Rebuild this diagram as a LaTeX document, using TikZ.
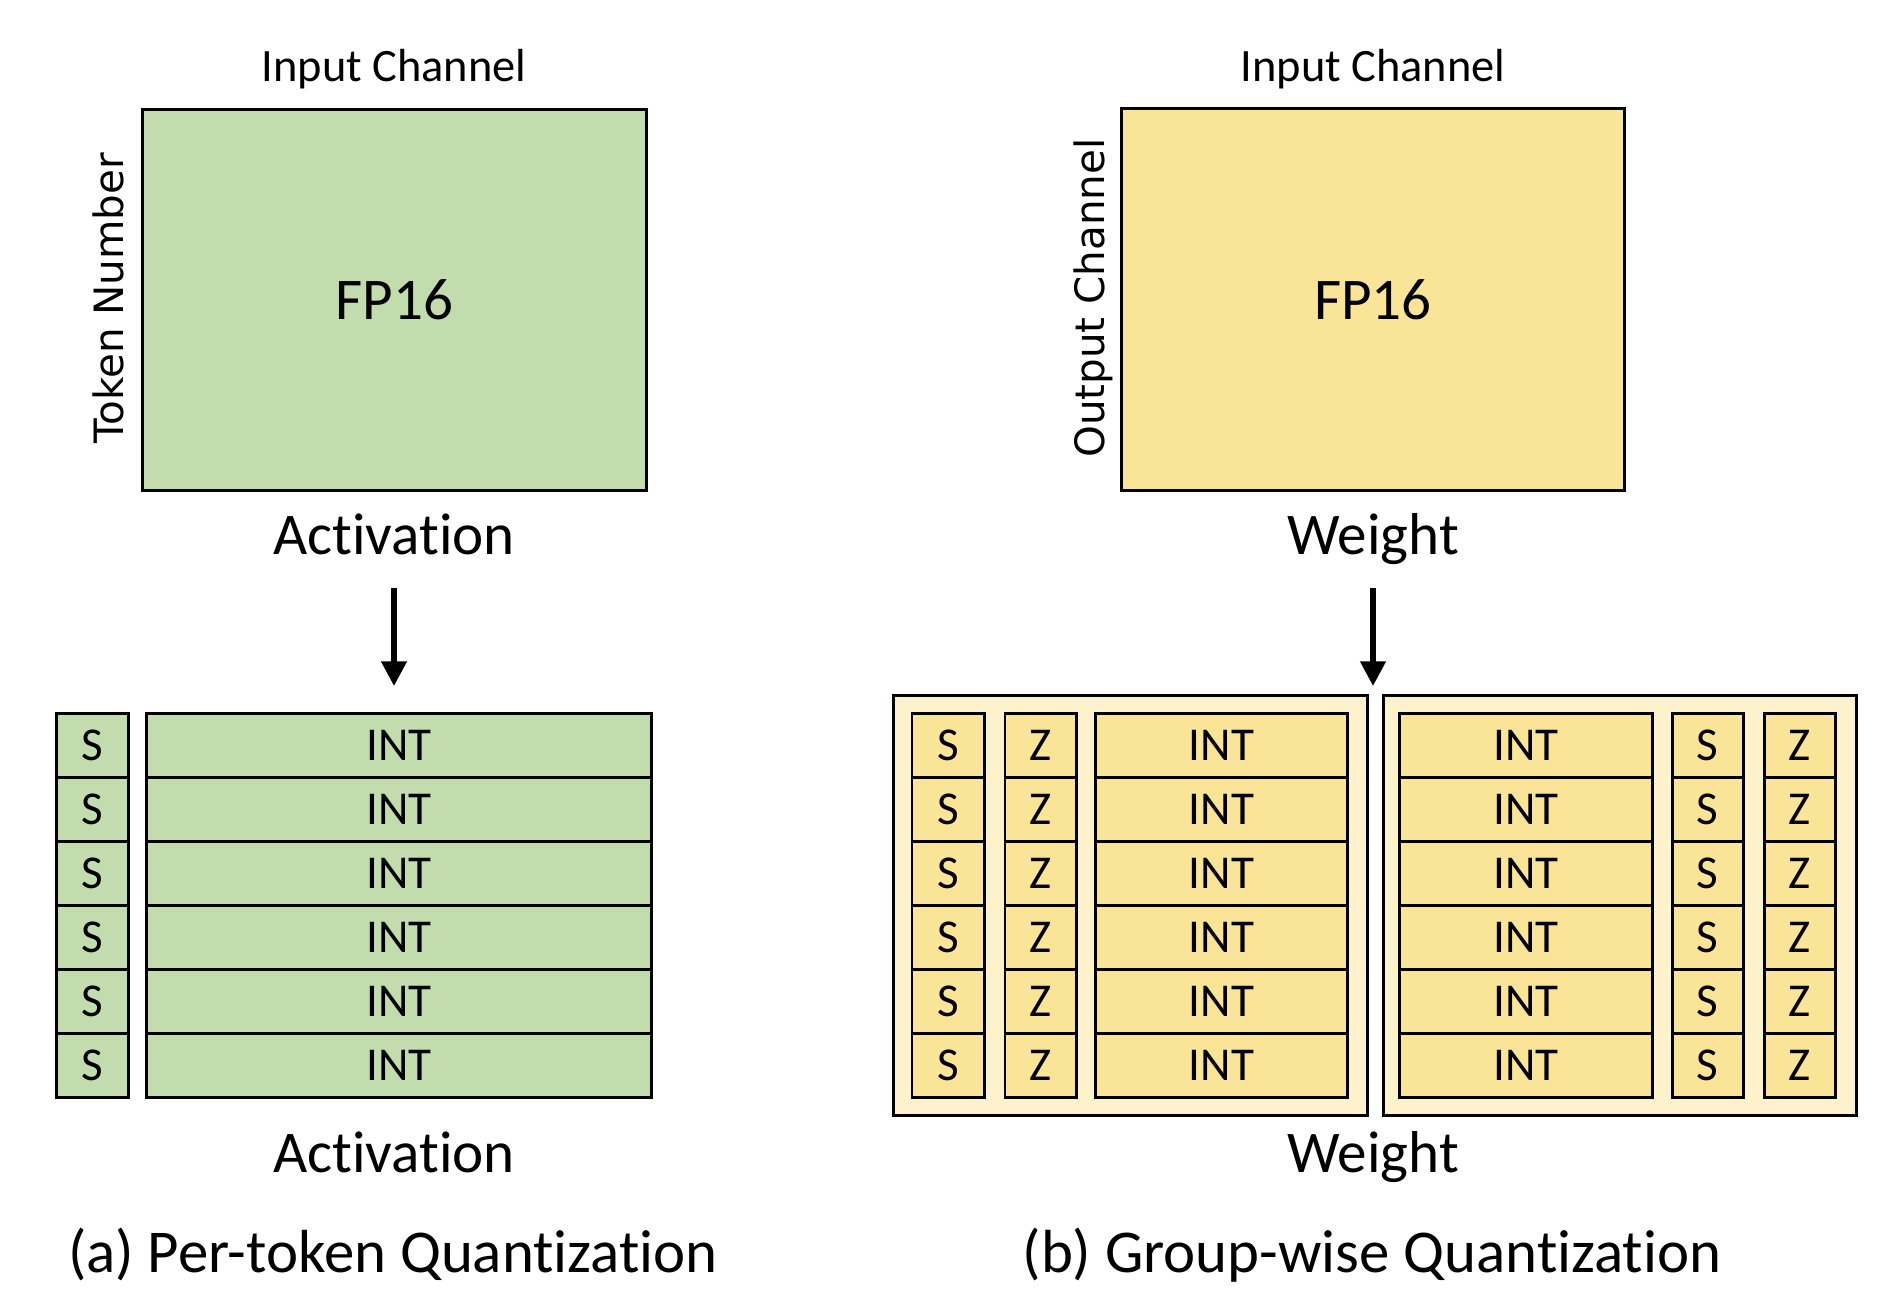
\documentclass[tikz,border=0pt]{standalone}
\usepackage{fontspec}
\setmainfont{Carlito}[Ligatures={NoCommon,NoContextual}]
\newfontfamily\axisfont{DejaVu Sans}
\usetikzlibrary{arrows.meta}

\definecolor{actgreen}{HTML}{C2DCAE}
\definecolor{wgtyellow}{HTML}{FAE498}
\definecolor{grpyellow}{HTML}{FEF2CC}

\tikzset{
    cell/.style={draw=black, line width=0.85pt, inner sep=0pt, minimum height=0.64cm,
        font=\fontsize{13.4}{15}\selectfont},
    gcell/.style={cell, fill=actgreen},
    ycell/.style={cell, fill=wgtyellow},
    grpbox/.style={draw=black, line width=0.85pt, fill=grpyellow, inner sep=0pt},
    bigbox/.style={draw=black, line width=0.85pt, inner sep=0pt,
        font=\fontsize{16.8}{19}\selectfont},
    lbl/.style={anchor=base, font=\fontsize{16.8}{19}\selectfont},
    toplbl/.style={anchor=base, font=\fontsize{13.2}{15}\selectfont},
    axislbl/.style={anchor=base, rotate=90, font=\axisfont\fontsize{11.5}{13}\selectfont},
    caption/.style={anchor=base, font=\fontsize{17.3}{20}\selectfont},
    flow/.style={line width=1.5pt, -{Triangle[length=7pt,width=7pt]}}
}

\begin{document}
\begin{tikzpicture}[x=0.01cm, y=-0.01cm]
            \useasboundingbox (0,0) rectangle (1886,1302);

            % (a) activation
            \node[bigbox, fill=actgreen, minimum width=5.03cm, minimum height=3.80cm] (actfp) at (394.5,300) {FP16};
            \node[toplbl] (actin) at (394,81) {Input Channel};
            \node[axislbl] (acttok) at (123,298) {Token Number};
            \node[lbl] (actname) at (394,554) {Activation};

            \coordinate (actfrom) at (394,588);
            \coordinate (actto) at (394,686);
            \draw[flow] (actfrom) -- (actto);

            \foreach \i in {0,...,5} {
                \node[gcell, minimum width=0.71cm] (as\i) at (92.5,745+64*\i) {S};
                \node[gcell, minimum width=5.04cm] (aint\i) at (399,745+64*\i) {INT};
            }
            \node[lbl] (actlow) at (394,1172) {Activation};
            \node[caption] (capa) at (393,1272) {(a) Per-token Quantization};

            % (b) weight
            \node[bigbox, fill=wgtyellow, minimum width=5.02cm, minimum height=3.81cm] (wgtfp) at (1373,299.5) {FP16};
            \node[toplbl] (wgtin) at (1373,81) {Input Channel};
            \node[axislbl] (wgtout) at (1104,298) {Output Channel};
            \node[lbl] (wgtname) at (1373,554) {Weight};

            \coordinate (wgtfrom) at (1373,588);
            \coordinate (wgtto) at (1373,686);
            \draw[flow] (wgtfrom) -- (wgtto);

            \node[grpbox, minimum width=4.73cm, minimum height=4.19cm] (grpl) at (1130.5,905.5) {};
            \node[grpbox, minimum width=4.72cm, minimum height=4.19cm] (grpr) at (1620,905.5) {};
            \foreach \i in {0,...,5} {
                \node[ycell, minimum width=0.72cm] (ls\i) at (948,745+64*\i) {S};
                \node[ycell, minimum width=0.71cm] (lz\i) at (1040.5,745+64*\i) {Z};
                \node[ycell, minimum width=2.51cm] (lint\i) at (1221.5,745+64*\i) {INT};
                \node[ycell, minimum width=2.52cm] (rint\i) at (1526,745+64*\i) {INT};
                \node[ycell, minimum width=0.71cm] (rs\i) at (1707.5,745+64*\i) {S};
                \node[ycell, minimum width=0.71cm] (rz\i) at (1799.5,745+64*\i) {Z};
            }
            \node[lbl] (wgtlow) at (1373,1172) {Weight};
            \node[caption] (capb) at (1372,1272) {(b) Group-wise Quantization};
\end{tikzpicture}
\end{document}
